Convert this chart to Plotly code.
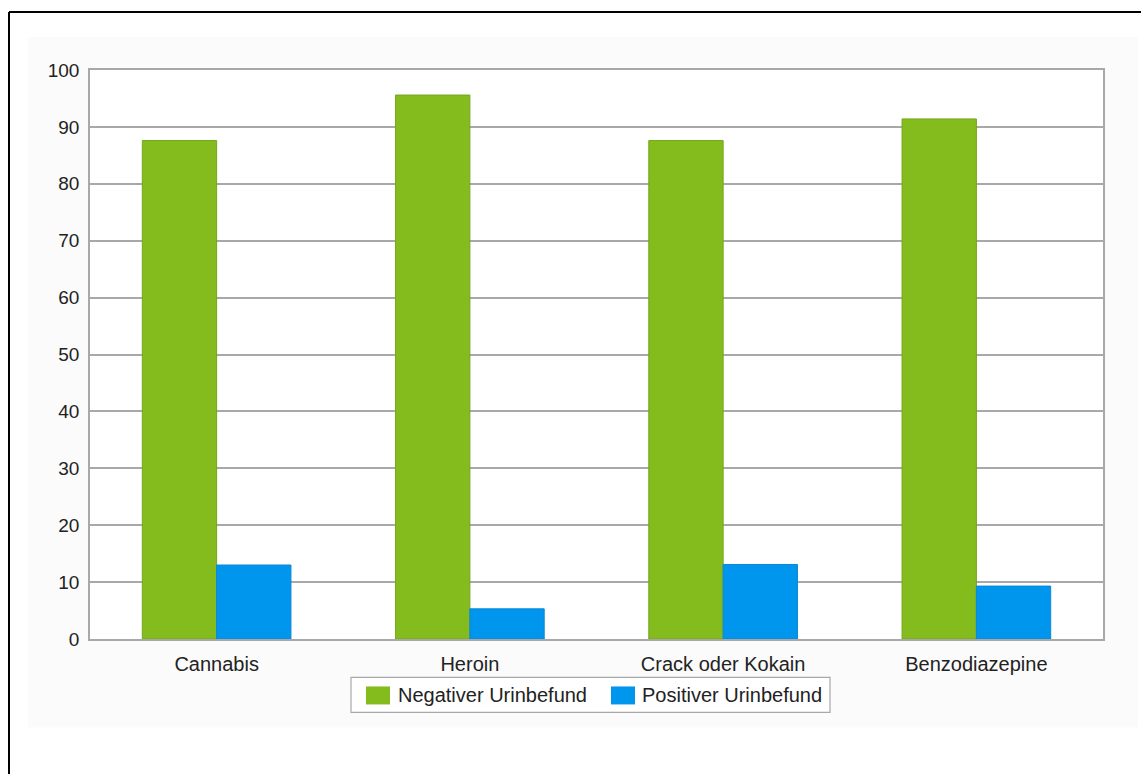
import plotly.graph_objects as go

# Data
categories = ["Cannabis", "Heroin", "Crack oder Kokain", "Benzodiazepine"]
series_names = ["Negativer Urinbefund", "Positiver Urinbefund"]
negative = [87.6, 95.6, 87.6, 91.4]
positive = [13.0, 5.3, 13.1, 9.3]
y_ticks = [0, 10, 20, 30, 40, 50, 60, 70, 80, 90, 100]

colors = ["#84bc1e", "#0096ee"]
edge_colors = ["#74a61a", "#0a86d6"]

W, H = 1141, 774
L, R, T, B = 90, 38, 70, 134.5
PW, PH = W - L - R, H - T - B
FONT = "Liberation Sans, Arial, sans-serif"
TXT = "#222222"


def px(x):
    return (x - L) / PW


def py(y):
    return (H - B - y) / PH


fig = go.Figure()
for name, vals, col, ec in zip(series_names, [negative, positive], colors, edge_colors):
    fig.add_trace(go.Bar(
        x=categories, y=vals, name=name,
        marker=dict(color=col, line=dict(color=ec, width=1)),
        showlegend=False,
    ))

shapes = [
    # faint outer panel
    dict(type="rect", xref="paper", yref="paper", layer="below",
         x0=px(28), x1=px(1138), y0=py(728), y1=py(37),
         fillcolor="#fbfbfb", line=dict(width=0)),
    # white plotting area
    dict(type="rect", xref="paper", yref="paper", layer="below",
         x0=0, x1=1, y0=0, y1=1, fillcolor="white", line=dict(width=0)),
    # black frame (left and top edges)
    dict(type="line", xref="paper", yref="paper",
         x0=px(9), x1=px(9), y0=py(12), y1=py(H + 5),
         line=dict(color="black", width=2)),
    dict(type="line", xref="paper", yref="paper",
         x0=px(9), x1=px(W + 5), y0=py(12), y1=py(12),
         line=dict(color="black", width=2)),
    # legend box
    dict(type="rect", xref="paper", yref="paper",
         x0=px(351), x1=px(830), y0=py(713), y1=py(678),
         fillcolor="white", line=dict(color="#a8a8a8", width=1.2)),
]

annotations = []
legend_items = [(366, 396), (611, 640)]
for (sx, tx), name, col in zip(legend_items, series_names, colors):
    shapes.append(dict(type="rect", xref="paper", yref="paper",
                       x0=px(sx), x1=px(sx + 24), y0=py(705), y1=py(687),
                       fillcolor=col, line=dict(width=0)))
    annotations.append(dict(xref="paper", yref="paper", x=px(tx), y=py(696),
                            text=name, showarrow=False, xanchor="left",
                            yanchor="middle",
                            font=dict(family=FONT, size=20, color=TXT)))

fig.update_layout(
    width=W, height=H,
    margin=dict(l=L, r=R, t=T, b=B, pad=0),
    paper_bgcolor="white",
    plot_bgcolor="white",
    barmode="group",
    bargap=0.413,
    bargroupgap=0,
    font=dict(family=FONT, size=19, color=TXT),
    shapes=shapes,
    annotations=annotations,
    xaxis=dict(
        showgrid=False, showline=True, linecolor="#a8a8a8", linewidth=1.5,
        mirror=True, ticks="", tickfont=dict(size=20, color=TXT),
        ticklabelstandoff=6, fixedrange=True,
    ),
    yaxis=dict(
        range=[0, 100], tickvals=y_ticks, showgrid=True,
        gridcolor="#a8a8a8", gridwidth=1.5, zeroline=False,
        showline=True, linecolor="#a8a8a8", linewidth=1.5, mirror=True,
        ticks="", tickfont=dict(size=19, color=TXT),
        ticklabelstandoff=5, fixedrange=True,
    ),
)

fig.write_html("out.html")
